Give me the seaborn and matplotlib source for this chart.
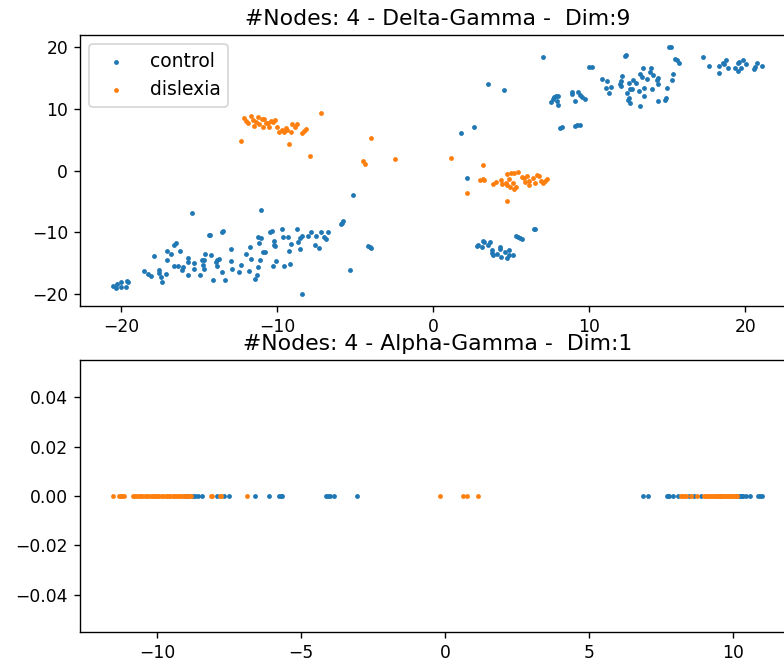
import matplotlib.pyplot as plt
import pandas as pd
import seaborn as sns

# --- t-SNE embedding, 9 dims (top panel) ---
control_x = [
    -20.57, -20.37, -20.31, -20.05, -20.05, -19.73, -19.67, -19.56, -18.54, -18.28,
    -18.11, -17.90, -17.62, -17.57, -17.43, -17.38, -17.17, -17.10, -17.06, -16.83,
    -16.61, -16.61, -16.51, -16.40, -16.23, -16.14, -16.06, -15.76, -15.76, -15.74,
    -15.48, -15.37, -15.35, -14.97, -14.86, -14.75, -14.71, -14.69, -14.65, -14.39,
    -14.31, -14.24, -14.11, -13.92, -13.90, -13.86, -13.77, -13.58, -13.47, -13.56,
    -13.37, -13.00, -12.98, -12.90, -12.43, -12.36, -12.04, -11.83, -11.74, -11.70,
    -11.44, -11.29, -11.27, -11.25, -11.16, -11.10, -11.06, -11.04, -10.95, -10.78,
    -10.48, -10.37, -10.25, -10.22, -10.20, -10.18, -10.12, -9.69, -9.65, -9.58,
    -9.33, -9.24, -9.16, -9.11, -8.77, -8.69, -8.56, -8.54, -8.45, -8.45,
    -8.02, -7.83, -7.60, -7.53, -7.36, -7.19, -7.00, -6.91, -6.78, -5.93,
    -5.84, -5.78, -5.37, -5.18, -4.18, -4.07, -4.01,
    1.78, 2.62, 3.49, 4.56, 7.04, 7.51, 7.64, 7.75, 7.85, 7.96,
    7.92, 8.00, 8.11, 8.26, 8.86, 8.90, 9.11, 9.26, 9.43, 9.56,
    9.73, 9.11, 9.24, 9.37, 9.95, 10.14, 10.84, 11.04, 11.16, 11.23,
    11.36, 11.96, 12.02, 12.06, 12.08, 12.28, 12.38, 12.43, 12.45, 12.53,
    12.55, 12.58, 12.62, 12.75, 12.79, 12.96, 13.19, 13.22, 13.22, 13.39,
    13.45, 13.49, 13.49, 13.69, 13.88, 13.96, 14.01, 14.05, 14.31, 14.41,
    14.43, 14.43, 14.86, 14.90, 14.99, 15.10, 15.22, 15.31, 15.35, 15.48,
    15.63, 15.76, 17.30, 17.64, 18.28, 18.28, 18.54, 18.62, 18.77, 18.90,
    19.31, 19.52, 19.54, 19.58, 19.73, 19.86, 20.03, 20.57, 20.65, 20.72,
    21.10,
    2.13, 2.77, 2.87, 3.09, 3.15, 3.24, 3.51, 3.66, 3.73, 3.73,
    3.84, 4.05, 4.26, 4.28, 4.31, 4.58, 4.69, 4.82, 4.84, 5.10,
    5.29, 5.44, 5.54, 5.67, 6.44, 6.51,
]
control_y = [
    -18.66, -19.04, -18.44, -18.12, -18.93, -18.93, -17.96, -18.12, -16.24, -16.83,
    -17.15, -13.92, -16.61, -16.07, -17.26, -18.01, -16.72, -13.11, -14.46, -13.49,
    -12.09, -15.43, -11.77, -15.43, -13.11, -16.07, -15.70, -14.24, -16.88, -14.78,
    -6.87, -15.05, -15.97, -16.88, -14.46, -15.32, -14.46, -15.91, -13.60, -10.42,
    -10.37, -13.76, -17.69, -14.84, -15.43, -14.57, -14.35, -9.94, -9.83, -16.40,
    -17.69, -12.74, -14.73, -15.97, -16.45, -15.32, -13.54, -16.34, -12.41, -14.30,
    -17.58, -16.94, -15.64, -10.69, -11.77, -14.46, -6.33, -10.90, -13.27, -13.17,
    -9.99, -9.77, -15.43, -12.09, -11.34, -12.30, -14.67, -9.50, -10.69, -15.54,
    -10.85, -13.11, -15.11, -11.87, -9.40, -11.66, -12.74, -10.96, -10.58, -19.95,
    -10.53, -9.99, -12.14, -10.53, -12.52, -9.88, -10.69, -11.17, -9.88, -8.70,
    -8.43, -8.21, -16.07, -3.96, -12.20, -12.41, -12.63,
    6.11, 7.08, 14.08, 13.11, 18.44, 11.07, 11.66, 11.93, 12.09, 12.14,
    11.23, 10.53, 6.92, 7.03, 12.74, 12.36, 11.23, 12.79, 12.25, 11.93,
    11.55, 7.24, 7.35, 7.40, 16.77, 16.77, 14.84, 13.33, 14.51, 12.52,
    13.49, 14.08, 13.65, 14.51, 15.37, 18.50, 18.66, 12.63, 11.39, 11.77,
    14.19, 11.01, 13.22, 13.22, 14.73, 14.19, 12.84, 15.70, 10.42, 15.11,
    16.61, 13.44, 12.09, 14.84, 16.02, 16.61, 13.22, 15.48, 14.73, 15.00,
    13.97, 11.28, 11.44, 11.82, 13.38, 19.95, 19.95, 14.73, 15.70, 18.12,
    17.85, 17.47, 18.39, 16.94, 16.88, 15.86, 17.42, 17.21, 17.85, 16.61,
    16.67, 17.42, 16.13, 17.58, 16.56, 17.96, 17.31, 16.51, 16.77, 17.47,
    16.99,
    -1.27, -12.20, -12.04, -12.41, -11.39, -11.50, -12.14, -11.50, -12.84, -13.38,
    -13.76, -13.49, -12.41, -12.68, -14.08, -13.17, -14.19, -13.76, -12.95, -13.65,
    -10.64, -10.75, -10.90, -11.12, -9.45, -9.40,
]
dyslexia_x = [
    -12.13, -12.04, -11.91, -11.72, -11.59, -11.53, -11.34, -11.23, -11.17, -11.01,
    -10.91, -10.85, -10.76, -10.59, -10.53, -10.42, -10.31, -10.16, -10.05, -9.88,
    -9.73, -9.58, -9.47, -9.37, -9.24, -9.15, -9.09, -8.88, -8.77, -8.41,
    -8.28, -8.17, -12.34, -7.21, -7.92, -4.03, -4.54, -4.39, -2.47, 1.12,
    3.15, 2.13, 3.00, 3.19, 3.24, 3.83, 4.01, 4.31, 4.37, 4.65,
    4.73, 4.73, 4.82, 4.97, 4.92, 5.12, 5.16, 5.20, 5.29, 5.44,
    5.67, 5.80, 5.87, 6.01, 6.10, 6.12, 6.40, 6.49, 6.62, 6.78,
    6.87, 7.04, 7.15, 7.28, 4.75,
]
dyslexia_y = [
    8.43, 8.05, 7.73, 8.80, 8.16, 7.19, 7.89, 8.59, 7.51, 8.27,
    6.98, 8.27, 7.63, 7.63, 6.98, 8.05, 7.89, 8.16, 6.98, 6.17,
    6.54, 6.27, 6.91, 6.54, 4.28, 6.27, 7.56, 7.08, 7.51, 6.11,
    6.43, 6.65, 4.81, 9.34, 2.34, 5.30, 1.53, 1.00, 1.91, 2.07,
    0.89, -3.63, -1.50, -1.42, -1.53, -2.18, -1.81, -1.53, -2.23, -1.97,
    -0.61, -2.34, -1.42, -0.45, -2.72, -1.97, -0.35, -2.99, -2.72, -0.24,
    -1.00, -1.26, -1.81, -0.89, -2.34, -1.65, -1.26, -1.97, -0.73, -0.84,
    -1.70, -2.07, -1.65, -1.37, -4.98,
]

# --- 1-D embedding (bottom panel) ---
control_1d = [
    -9.05, -8.95, -8.74, -8.68, -8.57, -8.45, -7.91, -7.68, -7.50, -6.60,
    -6.11, -5.77, -5.70, -5.66, -4.14, -4.07, -4.00, -3.86, -3.04,
    6.86, 7.03, 7.69, 7.73, 7.78, 7.92, 8.07, 8.47, 8.65, 8.88,
    9.55, 9.92, 10.21, 10.26, 10.31, 10.36, 10.44, 10.58, 10.87, 10.93, 11.02,
]
dyslexia_1d = [
    -11.54, -11.32, -11.26, -11.20, -11.13, -10.82, -10.77, -10.69, -10.63, -10.54,
    -10.50, -10.41, -10.35, -10.31, -10.22, -10.14, -10.11, -10.02, -9.96, -9.91,
    -9.83, -9.79, -9.70, -9.66, -9.57, -9.53, -9.44, -9.40, -9.32, -9.28,
    -9.19, -9.15, -9.06, -9.02, -8.93, -8.88, -8.80, -8.13, -8.07, -7.82,
    -7.76, -6.87, -0.16, 0.61, 0.77, 1.15, 8.19, 8.24, 8.31, 8.36,
    8.55, 8.76, 9.00, 9.05, 9.11, 9.16, 9.23, 9.29, 9.36, 9.42,
    9.46, 9.51, 9.58, 9.61, 9.67, 9.72, 9.78, 9.83, 9.89, 9.94,
    10.00, 10.06, 10.10, 10.15,
]

GROUPS = ["control", "dislexia"]

top_df = pd.DataFrame({
    "x": control_x + dyslexia_x,
    "y": control_y + dyslexia_y,
    "group": ["control"] * len(control_x) + ["dislexia"] * len(dyslexia_x),
})
bottom_df = pd.DataFrame({
    "x": control_1d + dyslexia_1d,
    "y": [0.0] * (len(control_1d) + len(dyslexia_1d)),
    "group": ["control"] * len(control_1d) + ["dislexia"] * len(dyslexia_1d),
})

palette = dict(zip(GROUPS, sns.color_palette("tab10", 2)))
plt.rcParams.update({"axes.titlesize": 12.8, "legend.fontsize": 11})

DPI = 123
fig = plt.figure(figsize=(784 / DPI, 664 / DPI), dpi=DPI)
ax_top = fig.add_axes([80 / 784, 358 / 664, 715 / 784, 271 / 664])
ax_bot = fig.add_axes([80 / 784, 32 / 664, 715 / 784, 272 / 664])

for grp in GROUPS:
    sub = top_df[top_df["group"] == grp]
    sns.scatterplot(data=sub, x="x", y="y", color=palette[grp], s=8,
                    linewidth=0, label=grp, ax=ax_top)
ax_top.set_title("#Nodes: 4 - Delta-Gamma -  Dim:9")
ax_top.set_xlabel("")
ax_top.set_ylabel("")
ax_top.legend(loc="upper left")

for grp in GROUPS:
    sub = bottom_df[bottom_df["group"] == grp]
    sns.scatterplot(data=sub, x="x", y="y", color=palette[grp], s=8,
                    linewidth=0, legend=False, ax=ax_bot)
ax_bot.set_title("#Nodes: 4 - Alpha-Gamma -  Dim:1")
ax_bot.set_xlabel("")
ax_bot.set_ylabel("")

fig.savefig("out.png", dpi=DPI)
